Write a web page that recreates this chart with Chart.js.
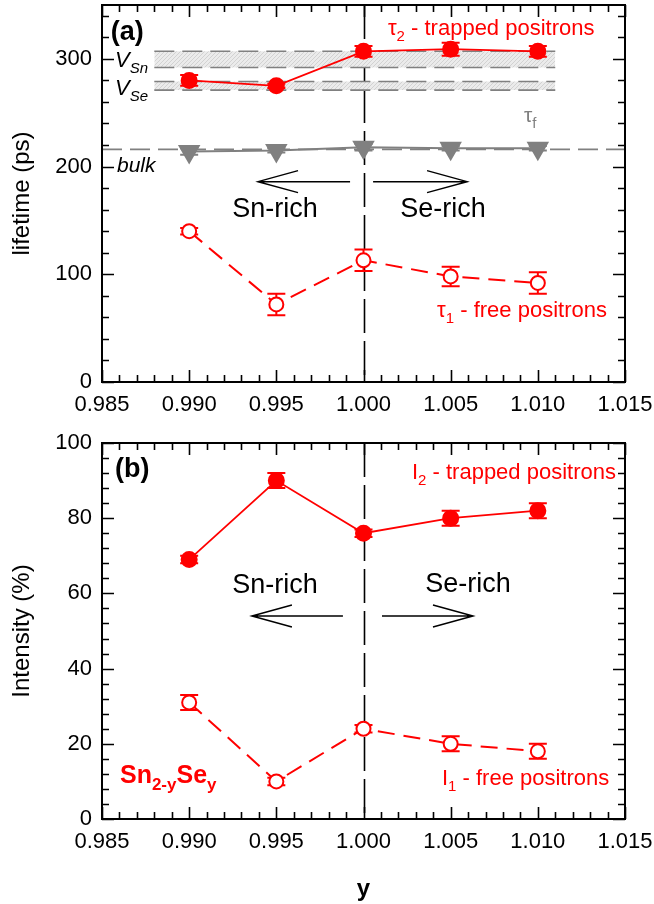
<!DOCTYPE html>
<html>
<head>
<meta charset="utf-8">
<script src="https://cdn.jsdelivr.net/npm/chart.js@4.4.0/dist/chart.umd.min.js"></script>
<style>
  body { margin: 0; background: #fff; }
  #page { position: relative; width: 654px; height: 904px; overflow: hidden; }
  canvas { position: absolute; left: 0; }
  #lifetimeChart { top: 0; }
  #intensityChart { top: 430px; }
</style>
</head>
<body>
<div id="page">
  <canvas id="lifetimeChart" width="654" height="430"></canvas>
  <canvas id="intensityChart" width="654" height="474"></canvas>
</div>
<script>
// composition y of Sn(2-y)Se(y)
const yValues = [0.990, 0.995, 1.000, 1.005, 1.010];

// lifetimes (ps)
const tau2 = [280, 275, 307, 309, 307];
const tau2Err = [5, 2, 5, 6, 5];
const tauF = [214, 215, 218, 217, 217];
const tauFErr = [3, 2, 3, 2, 2];
const tau1 = [140, 72, 113, 98, 92];
const tau1Err = [3, 10, 10, 9, 10];

// intensities (%)
const int2 = [69, 90, 76, 80, 82];
const int2Err = [1, 2, 1, 2, 2];
const int1 = [31, 10, 24, 20, 18];
const int1Err = [2, 1, 1, 2, 2];

// reference levels
const bulkLifetime = 216;
const vacancySn = [292, 307];
const vacancySe = [271, 279];
const vacancySpan = [0.988, 1.011];
const stoichiometric = 1.000;

// axes
const xRange = [0.985, 1.015];
const xTicks = [0.985, 0.990, 0.995, 1.000, 1.005, 1.010, 1.015];
const lifetimeRange = [0, 350];
const lifetimeTicks = [0, 100, 200, 300];
const intensityRange = [0, 100];
const intensityTicks = [0, 20, 40, 60, 80, 100];

const FONT = '"Liberation Sans", Arial, sans-serif';
Chart.defaults.font.family = FONT;
Chart.defaults.color = '#000';

const pts = (xs, ys) => xs.map((x, i) => ({ x: x, y: ys[i] }));

function drawRich(ctx, x, y, parts, align) {
    let w = 0;
    parts.forEach(p => { ctx.font = p[1]; w += ctx.measureText(p[0]).width; });
    let cx = align === 'right' ? x - w : align === 'center' ? x - w / 2 : x;
    ctx.textAlign = 'left';
    ctx.textBaseline = 'alphabetic';
    parts.forEach(p => {
        ctx.font = p[1];
        ctx.fillText(p[0], cx, y + (p[2] || 0));
        cx += ctx.measureText(p[0]).width;
    });
}

function drawArrow(ctx, x0, x1, y) {
    const dir = Math.sign(x1 - x0);
    ctx.beginPath();
    ctx.moveTo(x0, y);
    ctx.lineTo(x1, y);
    ctx.moveTo(x1 - dir * 40, y - 11);
    ctx.lineTo(x1, y);
    ctx.lineTo(x1 - dir * 40, y + 11);
    ctx.stroke();
}

// box frame with inward major/minor ticks on all four sides
const frameTicks = {
    id: 'frameTicks',
    afterDraw(chart) {
        const { ctx, chartArea: a, scales: { x, y } } = chart;
        const o = chart.options.plugins.frameTicks;
        ctx.save();
        ctx.strokeStyle = '#000';
        ctx.lineWidth = 1.6;
        ctx.beginPath();
        const nx = Math.round((x.max - x.min) / o.xMinor);
        for (let i = 0; i <= nx; i++) {
            const v = x.min + i * o.xMinor;
            const major = xTicks.some(t => Math.abs(t - v) < 1e-7);
            const len = major ? 12 : 7;
            const px = Math.round(x.getPixelForValue(v)) + 0.5;
            ctx.moveTo(px, a.bottom); ctx.lineTo(px, a.bottom - len);
            ctx.moveTo(px, a.top); ctx.lineTo(px, a.top + len);
        }
        const ny = Math.round((y.max - y.min) / o.yMinor);
        for (let i = 0; i <= ny; i++) {
            const v = y.min + i * o.yMinor;
            const major = o.yMajor.includes(v);
            const len = major ? 12 : 7;
            const py = Math.round(y.getPixelForValue(v)) + 0.5;
            ctx.moveTo(a.left, py); ctx.lineTo(a.left + len, py);
            ctx.moveTo(a.right, py); ctx.lineTo(a.right - len, py);
        }
        ctx.stroke();
        ctx.lineWidth = 2;
        ctx.strokeRect(a.left, a.top, a.right - a.left, a.bottom - a.top);
        ctx.restore();
    }
};

// vertical error bars drawn under each dataset's markers
const errorBars = {
    id: 'errorBars',
    beforeDatasetDraw(chart, args) {
        const ds = chart.data.datasets[args.index];
        if (!ds.errors) return;
        const { ctx, scales: { y } } = chart;
        ctx.save();
        ctx.strokeStyle = ds.borderColor;
        ctx.lineWidth = 2;
        ctx.beginPath();
        args.meta.data.forEach((pt, i) => {
            const v = ds.data[i].y, e = ds.errors[i];
            const top = y.getPixelForValue(v + e), bot = y.getPixelForValue(v - e);
            ctx.moveTo(pt.x, top); ctx.lineTo(pt.x, bot);
            ctx.moveTo(pt.x - 9, top); ctx.lineTo(pt.x + 9, top);
            ctx.moveTo(pt.x - 9, bot); ctx.lineTo(pt.x + 9, bot);
        });
        ctx.stroke();
        ctx.restore();
    }
};

// dash-dot marker at y = 1.000
const boundary = {
    id: 'boundary',
    beforeDatasetsDraw(chart) {
        const { ctx, chartArea: a, scales: { x } } = chart;
        const px = Math.round(x.getPixelForValue(stoichiometric)) + 0.5;
        ctx.save();
        ctx.strokeStyle = '#000';
        ctx.lineWidth = 1.6;
        ctx.setLineDash([34, 8]);
        ctx.beginPath();
        ctx.moveTo(px, a.top);
        ctx.lineTo(px, a.bottom);
        ctx.stroke();
        ctx.restore();
    }
};

class PositronCharts {
    constructor() {
        this.charts = {};
        this.colors = {
            red: '#ff0000',
            gray: '#808080',
            band: this.hatch()
        };
    }

    hatch() {
        const c = document.createElement('canvas');
        c.width = 4; c.height = 4;
        const g = c.getContext('2d');
        g.fillStyle = '#ebebeb';
        g.fillRect(0, 0, 4, 4);
        g.strokeStyle = '#d2d2d2';
        g.lineWidth = 1;
        g.beginPath();
        g.moveTo(0, 4); g.lineTo(4, 0);
        g.stroke();
        return g.createPattern(c, 'repeat');
    }

    baseOptions(range, ticks, yMinor, title, xAxisHeight, padTop, withXTitle) {
        return {
            responsive: false,
            animation: false,
            layout: {
                autoPadding: false,
                padding: { left: 0, right: 29, top: padTop, bottom: 0 }
            },
            plugins: {
                legend: { display: false },
                tooltip: { enabled: false },
                frameTicks: { xMinor: 0.001, yMinor: yMinor, yMajor: ticks }
            },
            scales: {
                x: {
                    type: 'linear',
                    min: xRange[0],
                    max: xRange[1],
                    afterBuildTicks: s => { s.ticks = xTicks.map(v => ({ value: v })); },
                    afterFit: s => {
                        s.height = xAxisHeight;
                        s.paddingLeft = 0;
                        s.paddingRight = 0;
                    },
                    grid: { display: false, drawTicks: false },
                    border: { display: false },
                    ticks: {
                        padding: 10,
                        maxRotation: 0,
                        autoSkip: false,
                        font: { size: 22 },
                        callback: v => v.toFixed(3)
                    },
                    title: {
                        display: withXTitle,
                        text: 'y',
                        font: { size: 24, weight: 'bold' },
                        padding: { top: 0, bottom: 0 }
                    }
                },
                y: {
                    min: range[0],
                    max: range[1],
                    afterBuildTicks: s => { s.ticks = ticks.map(v => ({ value: v })); },
                    afterFit: s => {
                        s.width = 102;
                        s.paddingTop = 0;
                        s.paddingBottom = 0;
                    },
                    grid: { display: false, drawTicks: false },
                    border: { display: false },
                    ticks: { padding: 10, font: { size: 22 } },
                    title: {
                        display: true,
                        text: title,
                        font: { size: 24 },
                        padding: { top: 8, bottom: 0 }
                    }
                }
            }
        };
    }

    lineSet(data, errors, color, opts) {
        return Object.assign({
            data: data,
            errors: errors,
            showLine: true,
            borderColor: color,
            backgroundColor: color,
            pointBorderColor: color,
            pointBackgroundColor: color,
            borderWidth: 2,
            pointRadius: 7.5,
            pointBorderWidth: 2
        }, opts);
    }

    refLine(data, opts) {
        return Object.assign({
            data: data,
            showLine: true,
            borderColor: this.colors.gray,
            borderWidth: 1.6,
            borderDash: [20, 8],
            pointRadius: 0,
            fill: false,
            order: 10
        }, opts);
    }

    createLifetimeChart() {
        const ctx = document.getElementById('lifetimeChart').getContext('2d');
        const c = this.colors;
        const notes = {
            id: 'lifetimeNotes',
            afterDraw(chart) {
                const { ctx, scales: { x, y } } = chart;
                const X = v => x.getPixelForValue(v), Y = v => y.getPixelForValue(v);
                ctx.save();
                ctx.fillStyle = '#000';
                drawRich(ctx, X(0.9855), Y(317.5), [['(a)', 'bold 27px ' + FONT]], 'left');
                drawRich(ctx, X(0.98575), Y(292.5), [['V', 'italic 22px ' + FONT], ['Sn', 'italic 15px ' + FONT, 6]], 'left');
                drawRich(ctx, X(0.98575), Y(266), [['V', 'italic 22px ' + FONT], ['Se', 'italic 15px ' + FONT, 6]], 'left');
                drawRich(ctx, X(0.98586), Y(194.7), [['bulk', 'italic 21px ' + FONT]], 'left');
                drawRich(ctx, X(0.99492), Y(153), [['Sn-rich', '27px ' + FONT]], 'center');
                drawRich(ctx, X(1.00456), Y(153), [['Se-rich', '27px ' + FONT]], 'center');
                ctx.strokeStyle = '#000';
                ctx.lineWidth = 1.5;
                drawArrow(ctx, X(0.99923), X(0.99395), Y(186));
                drawArrow(ctx, X(1.00055), X(1.00594), Y(186));
                ctx.fillStyle = c.red;
                drawRich(ctx, X(1.0014), Y(322), [['τ', '22px ' + FONT], ['2', '15px ' + FONT, 6], [' - trapped positrons', '22px ' + FONT]], 'left');
                drawRich(ctx, X(1.00422), Y(60.8), [['τ', '22px ' + FONT], ['1', '15px ' + FONT, 6], [' - free positrons', '22px ' + FONT]], 'left');
                ctx.fillStyle = c.gray;
                drawRich(ctx, X(1.0092), Y(241), [['τ', '21px ' + FONT], ['f', '15px ' + FONT, 6]], 'left');
                ctx.restore();
            }
        };
        const opts = this.baseOptions(lifetimeRange, lifetimeTicks, 20, 'lifetime (ps)', 48, 5, false);
        this.charts.lifetime = new Chart(ctx, {
            type: 'scatter',
            data: {
                datasets: [
                    this.lineSet(pts(yValues, tau2), tau2Err, c.red, { borderWidth: 1.8, order: 1 }),
                    this.lineSet(pts(yValues, tau1), tau1Err, c.red, {
                        borderDash: [17, 9], pointBackgroundColor: '#fff', pointRadius: 7, order: 2
                    }),
                    this.lineSet(pts(yValues, tauF), tauFErr, c.gray, {
                        pointStyle: 'triangle', rotation: 180, pointRadius: 11, order: 3
                    }),
                    this.refLine(pts(xRange, [bulkLifetime, bulkLifetime])),
                    this.refLine(pts(vacancySpan, [vacancySn[0], vacancySn[0]]), { fill: '+1', backgroundColor: c.band, order: 12 }),
                    this.refLine(pts(vacancySpan, [vacancySn[1], vacancySn[1]])),
                    this.refLine(pts(vacancySpan, [vacancySe[0], vacancySe[0]]), { fill: '+1', backgroundColor: c.band, order: 12 }),
                    this.refLine(pts(vacancySpan, [vacancySe[1], vacancySe[1]]))
                ]
            },
            options: opts,
            plugins: [boundary, errorBars, frameTicks, notes]
        });
    }

    createIntensityChart() {
        const ctx = document.getElementById('intensityChart').getContext('2d');
        const c = this.colors;
        const notes = {
            id: 'intensityNotes',
            afterDraw(chart) {
                const { ctx, scales: { x, y } } = chart;
                const X = v => x.getPixelForValue(v), Y = v => y.getPixelForValue(v);
                ctx.save();
                ctx.fillStyle = '#000';
                drawRich(ctx, X(0.98575), Y(91), [['(b)', 'bold 27px ' + FONT]], 'left');
                drawRich(ctx, X(0.99492), Y(60), [['Sn-rich', '27px ' + FONT]], 'center');
                drawRich(ctx, X(1.00599), Y(60.3), [['Se-rich', '27px ' + FONT]], 'center');
                ctx.strokeStyle = '#000';
                ctx.lineWidth = 1.5;
                drawArrow(ctx, X(0.99882), X(0.99360), Y(54));
                drawArrow(ctx, X(1.00106), X(1.00628), Y(54));
                ctx.fillStyle = c.red;
                drawRich(ctx, X(1.00278), Y(90.3), [['I', '22px ' + FONT], ['2', '15px ' + FONT, 6], [' - trapped positrons', '22px ' + FONT]], 'left');
                drawRich(ctx, X(1.0045), Y(9), [['I', '22px ' + FONT], ['1', '15px ' + FONT, 6], [' - free positrons', '22px ' + FONT]], 'left');
                drawRich(ctx, X(0.98603), Y(9.6), [
                    ['Sn', 'bold 25px ' + FONT], ['2-y', 'bold 17px ' + FONT, 7],
                    ['Se', 'bold 25px ' + FONT], ['y', 'bold 17px ' + FONT, 7]
                ], 'left');
                ctx.restore();
            }
        };
        const opts = this.baseOptions(intensityRange, intensityTicks, 4, 'Intensity (%)', 85, 13, true);
        this.charts.intensity = new Chart(ctx, {
            type: 'scatter',
            data: {
                datasets: [
                    this.lineSet(pts(yValues, int2), int2Err, c.red, { borderWidth: 1.8, order: 1 }),
                    this.lineSet(pts(yValues, int1), int1Err, c.red, {
                        borderDash: [17, 9], pointBackgroundColor: '#fff', pointRadius: 7, order: 2
                    })
                ]
            },
            options: opts,
            plugins: [boundary, errorBars, frameTicks, notes]
        });
    }
}

const positronCharts = new PositronCharts();
positronCharts.createLifetimeChart();
positronCharts.createIntensityChart();
</script>
</body>
</html>
